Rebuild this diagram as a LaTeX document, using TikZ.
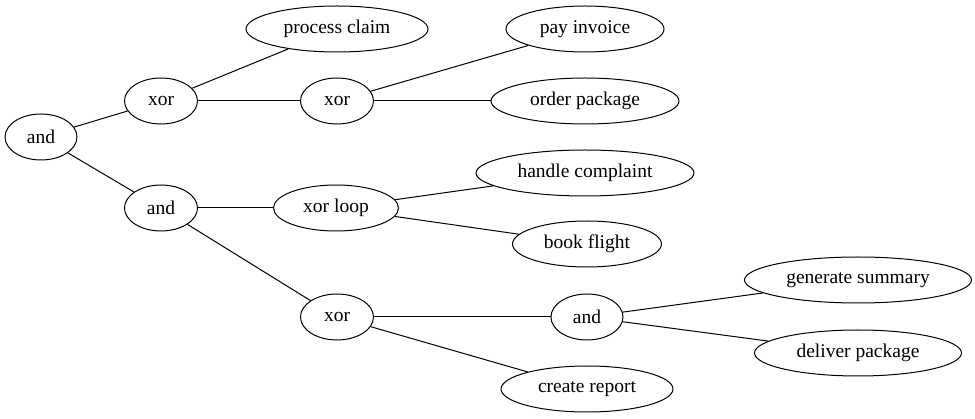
\documentclass[tikz,border=0pt]{standalone}
\usepackage{fontspec}
\setmainfont{Liberation Serif}
\usetikzlibrary{shapes.geometric}
\tikzset{
  el/.style={draw, ellipse, line width=1pt, inner sep=0pt, minimum height=46pt, font=\fontsize{19.5}{22}\selectfont},
  edge/.style={line width=1pt}
}
\begin{document}
\begin{tikzpicture}[x=1pt,y=-1pt]
\useasboundingbox (0,0) rectangle (975,419);
\node[el, minimum width=72pt] (root) at (41,137) {and};
\node[el, minimum width=73pt] (x1) at (161,101) {xor};
\node[el, minimum width=73pt] (a2) at (161,208) {and};
\node[el, minimum width=182pt] (pc) at (337,29) {process claim};
\node[el, minimum width=73pt] (x2) at (337,101) {xor};
\node[el, minimum width=125pt] (xl) at (336,208) {xor loop};
\node[el, minimum width=73pt] (x3) at (337,317) {xor};
\node[el, minimum width=158pt] (pi) at (585,29) {pay invoice};
\node[el, minimum width=188pt] (op) at (585,101) {order package};
\node[el, minimum width=218pt] (hc) at (585,173) {handle complaint};
\node[el, minimum width=149pt] (bf) at (587,244) {book flight};
\node[el, minimum width=72pt] (a3) at (587,317) {and};
\node[el, minimum width=172pt] (cr) at (587,389) {create report};
\node[el, minimum width=227pt] (gs) at (858,280) {generate summary};
\node[el, minimum width=207pt] (dp) at (858,353) {deliver package};
\draw[edge] (root) -- (x1);
\draw[edge] (root) -- (a2);
\draw[edge] (x1) -- (pc);
\draw[edge] (x1) -- (x2);
\draw[edge] (x2) -- (pi);
\draw[edge] (x2) -- (op);
\draw[edge] (a2) -- (xl);
\draw[edge] (a2) -- (x3);
\draw[edge] (xl) -- (hc);
\draw[edge] (xl) -- (bf);
\draw[edge] (x3) -- (a3);
\draw[edge] (x3) -- (cr);
\draw[edge] (a3) -- (gs);
\draw[edge] (a3) -- (dp);
\end{tikzpicture}
\end{document}
